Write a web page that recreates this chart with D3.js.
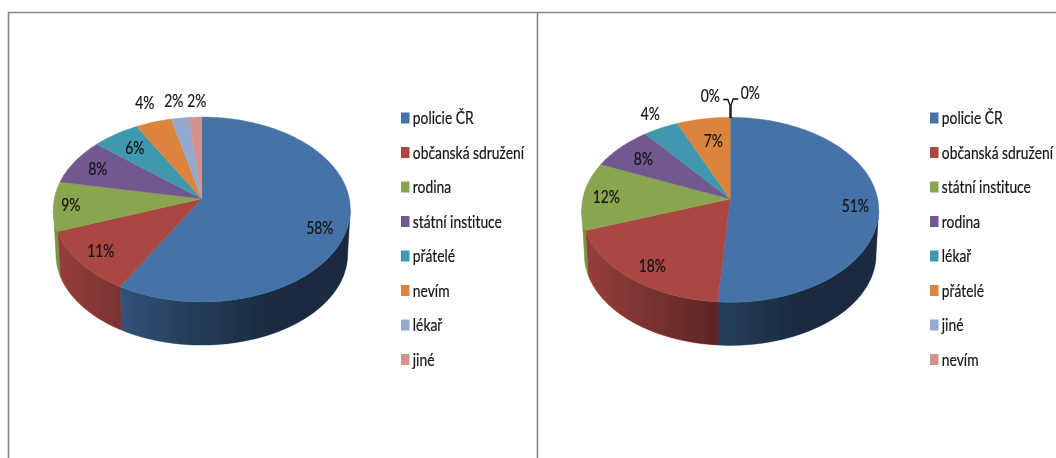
<!DOCTYPE html>
<html lang="en">

<head>
    <meta charset="UTF-8">
    <title>Pie charts</title>
    <style>
        html, body {
            margin: 0;
            background: #fff;
            overflow: hidden;
        }

        text {
            font-family: Lato, "Liberation Sans", sans-serif;
            font-size: 16.5px;
            font-variant-ligatures: none;
            fill: #141414;
            stroke: #141414;
            stroke-width: 0.2;
        }
    </style>
</head>

<body>
    <script src="https://d3js.org/d3.v7.min.js"></script>
    <script>
        const categoriesA = ['policie ČR', 'občanská sdružení', 'rodina', 'státní instituce', 'přátelé', 'nevím', 'lékař', 'jiné']
        const valuesA = [58.3, 11.1, 8.6, 8.1, 5.8, 4.4, 2.1, 1.6]

        const categoriesB = ['policie ČR', 'občanská sdružení', 'státní instituce', 'rodina', 'lékař', 'přátelé', 'jiné', 'nevím']
        const valuesB = [51.2, 18.4, 11.9, 7.7, 4.3, 6.5, 0, 0]

        const colors = ['#4572a7', '#aa4643', '#89a54e', '#71588f', '#4198af', '#db843d', '#93a9cf', '#d19392']

        // label centres relative to the pie apex, placed by hand like the chart tool did
        const labelOffsetsA = [[118, 29], [-101, 52], [-131, 6], [-104, -30], [-67, -51], [-57, -96], [-28, -98], [-5, -98]]
        const labelOffsetsB = [[125, 7], [-78, 67], [-124, -2], [-87, -40], [-80, -85], [-17, -58], [-20, -103], [20, -106]]

        const width = 1056
        const height = 458
        const textSqueeze = 0.84

        const svg = d3.select('body')
            .append('svg')
            .attr('width', width)
            .attr('height', height)
            .style('display', 'block')

        const defs = svg.append('defs')
        defs.append('filter')
            .attr('id', 'soft')
            .attr('x', 0).attr('y', 0).attr('width', 1).attr('height', 1)
            .append('feGaussianBlur')
            .attr('stdDeviation', 0.45)

        const root = svg.append('g').attr('filter', 'url(#soft)')
        root.append('rect')
            .attr('width', width)
            .attr('height', height)
            .attr('fill', '#fff')

        // frame
        root.append('path')
            .attr('d', 'M8.5,458V12.5H1056M537.5,12.5V458')
            .attr('fill', 'none')
            .attr('stroke', '#858585')
            .attr('stroke-width', 1.6)

        const rx = 147.5
        const ry = 91.2
        const persp = 0.1168
        const depth = 43
        const floorScale = 0.982

        // wall shading, shared by both pies: dark overlay by distance from centre
        const shade = d3.scaleLinear()
            .domain([-148, -82, -10, 60, 148])
            .range([0.1, 0.28, 0.46, 0.61, 0.62])

        const grad = defs.append('linearGradient')
            .attr('id', 'wall-shade')
            .attr('gradientUnits', 'objectBoundingBox')
        shade.domain().forEach(d => {
            grad.append('stop')
                .attr('offset', (d + 148) / 296)
                .attr('stop-color', '#000')
                .attr('stop-opacity', shade(d))
        })

        drawPie({ apex: [201.8, 198.7], cats: categoriesA, vals: valuesA, labels: labelOffsetsA, legendX: 401 })
        drawPie({ apex: [730.2, 199], cats: categoriesB, vals: valuesB, labels: labelOffsetsB, legendX: 930, leaders: true })

        // circle point at angle a, seen in perspective; near edge gets bigger
        function project(a, r = 1) {
            const X = Math.sin(a) * r
            const Y = -Math.cos(a) * r
            const w = 1 - persp * Y
            return [rx * X / w, ry * Y / w]
        }

        function rimPoints(a0, a1, fn) {
            const n = Math.max(2, Math.ceil((a1 - a0) / 0.02))
            return d3.range(n + 1).map(i => fn(a0 + (a1 - a0) * i / n))
        }

        function floor(a) {
            const [x, y] = project(a)
            return [x * floorScale, y * floorScale + depth + 2]
        }

        function drawPie({ apex, cats, vals, labels, legendX, leaders }) {
            const g = root.append('g')
                .attr('transform', 'translate(' + apex[0] + ',' + apex[1] + ')')

            const arcs = d3.pie().sort(null).value(d => d)(vals)
            const line = d3.line()

            // front walls, only the part of the rim between the two widest points shows
            const wallStart = Math.acos(-persp)
            const wallEnd = 2 * Math.PI - wallStart
            const wallPath = (a0, a1) => {
                const top = rimPoints(a0, a1, project)
                const bottom = rimPoints(a0, a1, floor).reverse()
                return line(top.concat(bottom)) + 'Z'
            }

            arcs.forEach((d, i) => {
                const a0 = Math.max(d.startAngle, wallStart)
                const a1 = Math.min(d.endAngle, wallEnd)
                if (a1 <= a0) return
                g.append('path')
                    .attr('d', wallPath(a0, a1))
                    .attr('fill', colors[i])
                    .attr('stroke', colors[i])
                    .attr('stroke-width', 0.5)
            })
            g.append('path')
                .attr('d', wallPath(wallStart, wallEnd))
                .attr('fill', 'url(#wall-shade)')

            // top face
            arcs.forEach((d, i) => {
                if (d.endAngle <= d.startAngle) return
                g.append('path')
                    .attr('d', line([[0, 0]].concat(rimPoints(d.startAngle, d.endAngle, project))) + 'Z')
                    .attr('fill', colors[i])
                    .attr('stroke', colors[i])
                    .attr('stroke-width', 0.4)
            })

            // the two empty slices get leader lines
            if (leaders) {
                g.append('path')
                    .attr('d', 'M-0.2,-81V-94L-2.5,-99.5H-7')
                    .attr('fill', 'none')
                    .attr('stroke', '#000')
                    .attr('stroke-width', 1.3)
                g.append('path')
                    .attr('d', 'M0.8,-81V-94L3,-100H8')
                    .attr('fill', 'none')
                    .attr('stroke', '#000')
                    .attr('stroke-width', 1.3)
            }

            g.selectAll('text.pct')
                .data(vals)
                .join('text')
                .attr('class', 'pct')
                .attr('transform', (d, i) => 'translate(' + labels[i][0] + ',' + labels[i][1] + ') scale(' + textSqueeze + ',1)')
                .attr('text-anchor', 'middle')
                .attr('dominant-baseline', 'central')
                .text(d => Math.round(d) + '%')

            const legendY = d3.scalePoint()
                .domain(cats)
                .range([118, 359.5])

            const legend = root.append('g')
                .selectAll('g')
                .data(cats)
                .join('g')
                .attr('transform', d => 'translate(' + legendX + ',' + legendY(d) + ')')

            legend.append('rect')
                .attr('y', -5.5)
                .attr('width', 8.5)
                .attr('height', 11)
                .attr('fill', (d, i) => colors[i])

            legend.append('text')
                .attr('transform', 'translate(11.8,0) scale(' + textSqueeze + ',1)')
                .attr('dominant-baseline', 'central')
                .text(d => d)
        }
    </script>
</body>

</html>
